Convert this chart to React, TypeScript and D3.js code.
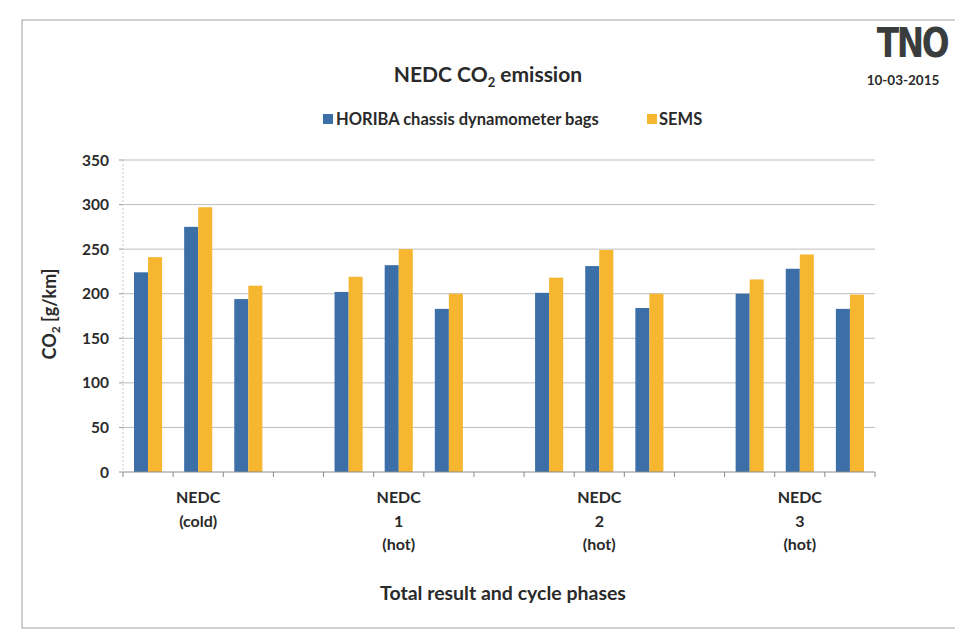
import React from "react";
import * as d3 from "d3";

const slots = ["c0","c1","c2","g0","h0","h1","h2","g1","i0","i1","i2","g2","j0","j1","j2"];
const groupLabels: string[][] = [["NEDC","(cold)"],["NEDC","1","(hot)"],["NEDC","2","(hot)"],["NEDC","3","(hot)"]];
const groupLabelSlots = ["c1","h1","i1","j1"];
const horiba: (number|null)[] = [224, 275, 194, null, 202, 232, 183, null, 201, 231, 184, null, 200, 228, 183];
const sems: (number|null)[] = [241, 297, 209, null, 219, 250, 200, null, 218, 249, 200, null, 216, 244, 199];
const seriesNames = ["HORIBA chassis dynamometer bags", "SEMS"];
const yTicks = [0, 50, 100, 150, 200, 250, 300, 350];

const W = 955, H = 632;
const M = { left: 123, right: 875, top: 160, bottom: 472 };
const COLORS = ["#3c6ea8", "#f6b630"];
const FONT = "Lato, 'Open Sans', sans-serif";
const TXT = "#2a2a2a";

export default function App() {
  const x = d3.scaleBand<string>().domain(slots).range([M.left, M.right]).padding(0);
  const inner = d3.scaleBand<string>().domain(["0","1"]).range([0, x.bandwidth()]).paddingOuter(0.785).paddingInner(0);
  const y = d3.scaleLinear().domain([0, 350]).range([M.bottom, M.top]);
  const series = [horiba, sems];

  return (
    <svg width={W} height={H} style={{ position: "absolute", left: 0, top: 0, background: "#fff" }} fontFamily={FONT}>
      <rect x={0} y={0} width={W} height={H} fill="#fff" />
      <rect x={22} y={20} width={940} height={608} fill="none" stroke="#a0a0a0" strokeWidth={1} />
      {/* title */}
      <text x={488} y={82} textAnchor="middle" fontSize={21} fontWeight="bold" fill={TXT}>
        NEDC CO<tspan fontSize={13} dy={5}>2</tspan><tspan dy={-5}> emission</tspan>
      </text>
      {/* logo */}
      <text transform="translate(912,57) scale(0.8,1)" textAnchor="middle" fontSize={41} fontWeight="bold" fill="#3a3d3d" letterSpacing={-3} fontFamily="'DejaVu Sans', sans-serif">TNO</text>
      <text x={903} y={85} textAnchor="middle" fontSize={13.5} fontWeight="bold" fill={TXT}>10-03-2015</text>
      {/* legend */}
      <rect x={323} y={114} width={10} height={10} fill={COLORS[0]} />
      <text x={336} y={125} fontSize={16.5} fontWeight="bold" fill={TXT}>{seriesNames[0]}</text>
      <rect x={647} y={114} width={10} height={10} fill={COLORS[1]} />
      <text x={659} y={125} fontSize={16.5} fontWeight="bold" fill={TXT}>{seriesNames[1]}</text>
      {/* gridlines */}
      {yTicks.map(t => (
        <g key={t}>
          {t > 0 && <line x1={M.left} x2={M.right} y1={y(t)} y2={y(t)} stroke="#bdbdbd" strokeWidth={1} />}
          <line x1={M.left - 4} x2={M.left} y1={y(t)} y2={y(t)} stroke="#9a9a9a" />
          <text x={109} y={y(t) + 5.5} textAnchor="end" fontSize={15.5} fontWeight="bold" fill={TXT}>{t}</text>
        </g>
      ))}
      <line x1={M.left} x2={M.left} y1={M.top} y2={M.bottom} stroke="#c8c8c8" strokeDasharray="2,2" />
      {/* bars */}
      {series.map((s, si) => s.map((v, i) => v == null ? null : (
        <rect key={`${si}-${i}`} x={(x(slots[i]) as number) + (inner(String(si)) as number)} y={y(v)}
          width={inner.bandwidth()} height={y(0) - y(v)} fill={COLORS[si]} />
      )))}
      {/* x axis */}
      <line x1={M.left} x2={M.right} y1={M.bottom} y2={M.bottom} stroke="#8c8c8c" strokeWidth={1} />
      {slots.map((s) => (
        <line key={s} x1={x(s) as number} x2={x(s) as number} y1={M.bottom} y2={M.bottom + 5} stroke="#8c8c8c" />
      ))}
      <line x1={M.right} x2={M.right} y1={M.bottom} y2={M.bottom + 5} stroke="#8c8c8c" />
      {groupLabels.map((lines, gi) => {
        const cx = (x(groupLabelSlots[gi]) as number) + x.bandwidth() / 2;
        return (
          <text key={gi} x={cx} y={503} textAnchor="middle" fontSize={16} fontWeight="bold" fill={TXT}>
            {lines.map((l, li) => <tspan key={li} x={cx} dy={li === 0 ? 0 : 23.5}>{l}</tspan>)}
          </text>
        );
      })}
      <text x={503} y={600} textAnchor="middle" fontSize={19.5} fontWeight="bold" fill={TXT}>Total result and cycle phases</text>
      <text transform="translate(56,314) rotate(-90)" textAnchor="middle" fontSize={18} fontWeight="bold" fill={TXT}>
        CO<tspan fontSize={12} dy={4}>2</tspan><tspan dy={-4}> [g/km]</tspan>
      </text>
    </svg>
  );
}
